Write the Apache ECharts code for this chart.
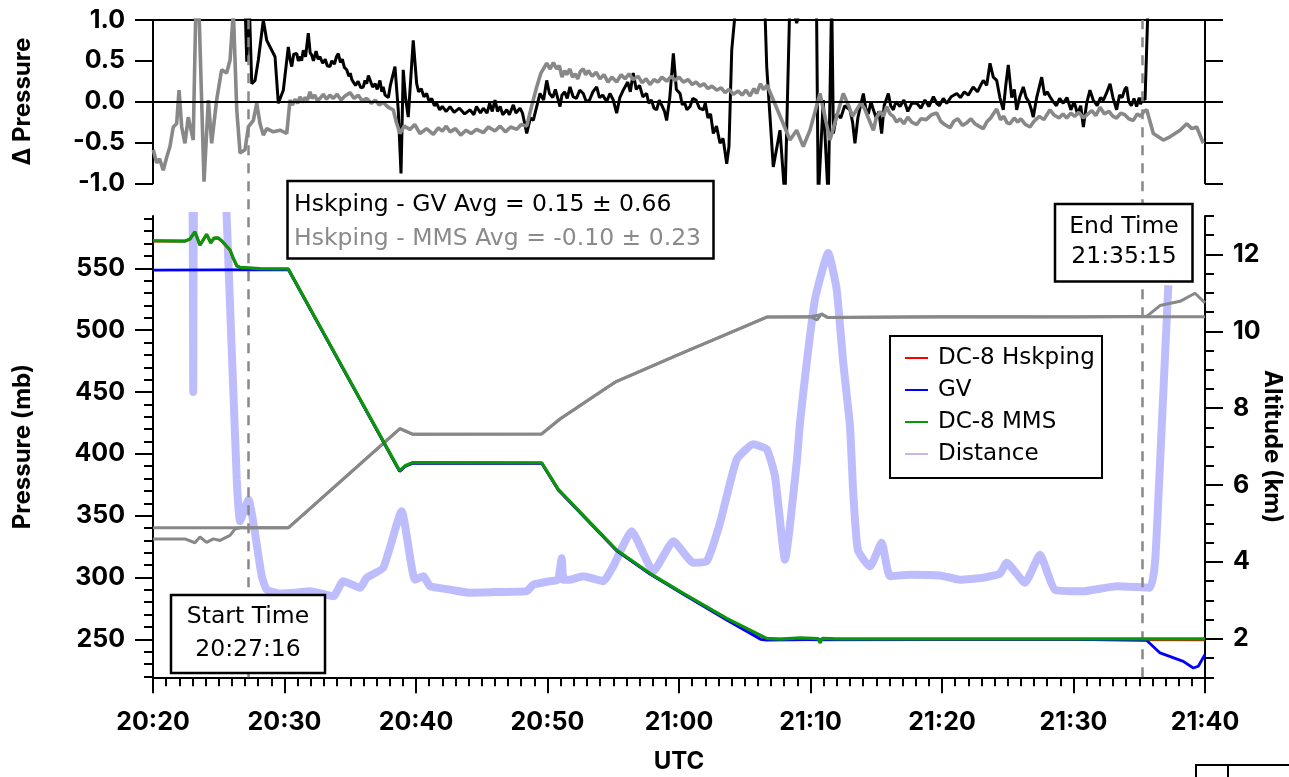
<!DOCTYPE html>
<html><head><meta charset="utf-8">
<script src="https://cdn.jsdelivr.net/npm/echarts@6/dist/echarts.min.js"></script>
<style>html,body{margin:0;padding:0;background:#fff}#c{width:1289px;height:777px}</style>
</head><body><div id="c"></div><script>
// time axis: minutes after 20:00 UTC
const START_MIN = 27 + 16/60;   // 20:27:16
const END_MIN = 95 + 15/60;     // 21:35:15
const X_MIN = 20, X_MAX = 100;

const DP_TICKS = [-1, -0.5, 0, 0.5, 1];
const P_TICKS = [250, 300, 350, 400, 450, 500, 550];
const P_MINOR = [220,230,240,250,260,270,280,290,300,310,320,330,340,350,360,370,380,390,400,410,420,430,440,450,460,470,480,490,500,510,520,530,540,550,560,570,580,590];
const ALT_TICKS = [2, 4, 6, 8, 10, 12];
const ALT_MINOR = [1,1.5,2,2.5,3,3.5,4,4.5,5,5.5,6,6.5,7,7.5,8,8.5,9,9.5,10,10.5,11,11.5,12,12.5,13];

const STAT_GV = 'Hskping - GV Avg = 0.15 ± 0.66';
const STAT_MMS = 'Hskping - MMS Avg = -0.10 ± 0.23';

// Δ Pressure: Hskping - GV (black)
const diffGV = [[27.00,1.20],[27.13,0.49],[27.32,1.20],[27.51,0.22],[27.76,0.26],[28.01,0.51],[28.39,1.00],[28.65,0.75],[29.03,0.63],[29.28,0.55],[29.53,-0.02],[29.91,0.14],
[30.29,0.67],[30.42,0.52],[30.55,0.43],[30.70,0.58],[30.93,0.59],[31.05,0.50],[31.20,0.55],[31.30,0.50],[31.43,0.63],[31.60,0.55],[31.81,0.84],[31.95,0.60],[32.07,0.57],[32.20,0.50],[32.40,0.62],[32.55,0.52],[32.70,0.55],[32.90,0.47],[33.10,0.52],[33.25,0.44],[33.46,0.43],[33.60,0.50],[33.80,0.46],[33.95,0.55],[34.09,0.59],[34.25,0.48],[34.40,0.52],[34.55,0.42],[34.73,0.39],[34.90,0.31],[35.00,0.35],[35.12,0.27],[35.23,0.26],[35.40,0.20],[35.60,0.25],[35.80,0.17],[35.99,0.18],[36.12,0.26],[36.25,0.22],[36.38,0.32],[36.50,0.30],[36.70,0.18],[36.90,0.22],[37.05,0.15],[37.26,0.26],[37.40,0.12],[37.50,0.18],[37.65,0.08],[37.77,0.10],[37.90,0.05],[38.05,0.20],[38.40,0.43],[38.65,-0.10],[38.86,-0.88],[39.03,0.39],[39.20,0.05],[39.41,-0.19],[39.79,0.75],
[40.05,0.22],[40.20,0.12],[40.40,0.16],[40.60,0.06],[40.81,0.10],[41.00,0.00],[41.20,0.04],[41.40,-0.05],[41.57,-0.02],[41.80,-0.10],[42.00,-0.06],[42.30,-0.12],[42.59,-0.06],[42.90,-0.13],[43.30,-0.08],[43.70,-0.15],[44.11,-0.10],[44.40,-0.16],[44.60,-0.06],[44.90,-0.14],[45.12,-0.08],[45.40,-0.14],[45.60,-0.02],[45.80,-0.12],[46.01,0.02],[46.20,-0.12],[46.40,-0.06],[46.60,-0.16],[46.90,-0.10],[47.10,-0.16],[47.40,-0.04],[47.60,-0.14],[47.91,-0.08],[48.10,-0.14],[48.42,-0.39],[48.70,-0.20],[48.92,-0.23],
[49.43,0.10],[49.70,0.02],[49.94,0.26],[50.15,0.10],[50.40,0.05],[50.60,0.15],[50.95,-0.06],[51.10,0.08],[51.30,0.12],[51.50,0.04],[51.71,0.18],[51.95,0.06],[52.20,0.04],[52.45,0.14],[52.72,0.10],[52.95,0.00],[53.20,0.02],[53.45,0.12],[53.74,0.18],[53.95,0.05],[54.20,0.08],[54.50,0.00],[54.75,0.10],[55.00,0.02],[55.26,-0.14],[55.50,0.05],[55.76,0.14],[56.10,0.24],[56.30,0.12],[56.52,0.35],[56.75,0.15],[57.00,0.20],[57.25,0.06],[57.54,0.10],[57.70,-0.02],[57.90,0.02],[58.10,-0.08],[58.30,-0.10],[58.50,0.02],[58.70,-0.05],[58.90,-0.12],[59.06,-0.23],[59.30,0.05],[59.57,0.59],[59.80,0.15],[60.08,0.10],[60.25,-0.04],[60.40,0.00],[60.60,-0.10],[60.84,-0.06],[61.05,0.04],[61.30,0.02],[61.55,-0.08],[61.85,-0.10],[62.00,-0.02],[62.20,-0.20],[62.40,-0.15],[62.61,-0.39],[62.85,-0.30],[63.12,-0.51],[63.35,-0.45],[63.63,-0.76],[63.80,-0.55],[64.01,0.63],
[64.39,1.30],[66.50,1.30],[66.67,0.43],[67.17,-0.80],[67.68,-0.35],[68.06,-1.20],[68.44,1.30],[68.95,0.96],[69.45,1.30],[70.45,1.30],[70.59,-1.20],[70.97,0.02],[71.35,-1.20],[71.61,1.30],[71.74,-0.39],
[72.00,-0.15],[72.30,-0.20],[72.60,-0.05],[73.00,-0.10],[73.20,-0.25],[73.38,-0.51],[73.60,-0.20],[73.80,-0.05],[74.02,0.10],[74.20,-0.08],[74.40,-0.15],[74.60,0.00],[74.78,-0.10],[75.00,-0.20],[75.20,-0.12],[75.41,-0.39],[75.60,-0.05],[75.92,0.10],[76.10,-0.05],[76.30,-0.10],[76.50,0.00],[76.81,-0.06],[77.10,0.02],[77.40,-0.12],[77.70,-0.02],[78.08,-0.02],[78.40,-0.08],[78.70,0.02],[79.00,-0.06],[79.35,0.06],[79.60,-0.02],[79.80,-0.05],[80.10,0.04],[80.36,-0.02],[80.70,0.06],[81.12,0.10],[81.40,0.05],[81.70,0.12],[82.00,0.08],[82.37,0.18],[82.70,0.12],[83.00,0.22],[83.14,0.26],[83.40,0.20],[83.65,0.47],[83.90,0.30],[84.16,0.26],[84.40,0.05],[84.66,-0.10],[84.85,0.20],[85.04,0.45],[85.30,0.05],[85.50,0.15],[85.68,-0.10],[85.90,0.05],[86.18,0.18],[86.40,0.05],[86.60,0.00],[86.80,-0.10],[86.94,-0.19],[87.20,0.05],[87.58,0.30],[87.80,0.08],[88.00,0.12],[88.21,0.06],[88.45,0.00],[88.70,-0.05],[88.95,0.04],[89.22,-0.02],[89.50,0.05],[89.80,-0.10],[90.05,0.00],[90.30,-0.15],[90.55,-0.05],[90.75,-0.31],[91.00,-0.02],[91.25,0.14],[91.50,0.02],[91.80,-0.05],[92.05,0.05],[92.27,0.02],[92.50,0.10],[92.78,0.22],[93.00,0.05],[93.28,-0.10],[93.50,0.08],[93.70,0.05],[93.90,0.15],[94.04,0.18],[94.20,0.00],[94.40,-0.05],[94.60,0.04],[94.80,-0.06],[95.00,0.05],[95.10,-0.03],[95.30,0.05],[95.44,0.02],[95.69,1.30]];

// Δ Pressure: Hskping - MMS (gray)
const diffMMS = [[20.02,-0.59],[20.28,-0.75],[20.50,-0.70],[20.78,-0.84],[21.04,-0.68],[21.29,-0.55],[21.54,-0.31],[21.80,-0.27],[21.98,0.14],[22.18,-0.31],[22.43,-0.51],[22.68,-0.19],[23.06,-0.47],[23.25,1.10],[23.50,1.10],[23.88,-0.98],[24.21,0.02],[24.46,-0.51],[24.84,0.02],[25.22,0.39],[25.60,0.35],[25.86,0.51],[26.11,1.10],[26.37,-0.10],[26.62,-0.63],[27.00,-0.59],[27.25,-0.31],[27.63,-0.23],[27.89,-0.02],[28.14,-0.27],[28.39,-0.41],[28.65,-0.33],[29.15,-0.37],[29.66,-0.35],[30.17,-0.39],
[30.42,0.02],[30.60,-0.04],[30.80,0.03],[31.00,-0.02],[31.18,0.06],[31.35,-0.01],[31.55,0.05],[31.75,0.02],[31.94,0.12],[32.10,0.04],[32.30,0.08],[32.50,0.01],[32.70,0.04],[32.95,0.09],[33.20,0.03],[33.45,0.08],[33.71,0.04],[34.00,0.09],[34.30,0.02],[34.60,0.07],[34.98,0.11],[35.30,0.04],[35.60,0.08],[35.90,0.01],[36.25,0.04],[36.60,-0.02],[36.90,0.02],[37.20,-0.04],[37.51,-0.01],[37.90,-0.07],[38.27,-0.10],[38.50,-0.25],[38.78,-0.39],[39.10,-0.30],[39.54,-0.34],[39.90,-0.28],[40.30,-0.39],[40.80,-0.33],[41.32,-0.40],[41.70,-0.32],[42.00,-0.36],[42.30,-0.30],[42.59,-0.37],[43.00,-0.33],[43.40,-0.41],[43.80,-0.35],[44.20,-0.39],[44.60,-0.34],[45.12,-0.38],[45.50,-0.31],[46.00,-0.36],[46.40,-0.30],[46.80,-0.37],[47.20,-0.31],[47.66,-0.34],[48.00,-0.28],[48.42,-0.30],[48.80,-0.05],[49.18,0.18],
[49.50,0.35],[49.94,0.47],[50.20,0.40],[50.45,0.48],[50.70,0.40],[50.90,0.44],[51.10,0.30],[51.30,0.38],[51.46,0.33],[51.70,0.40],[51.90,0.30],[52.10,0.34],[52.30,0.28],[52.50,0.37],[52.72,0.40],[52.90,0.33],[53.10,0.38],[53.40,0.31],[53.70,0.36],[53.99,0.28],[54.30,0.33],[54.60,0.24],[54.90,0.30],[55.26,0.24],[55.60,0.33],[55.90,0.28],[56.20,0.34],[56.52,0.27],[56.90,0.31],[57.20,0.23],[57.50,0.28],[57.79,0.21],[58.10,0.27],[58.40,0.24],[58.70,0.30],[59.06,0.25],[59.40,0.31],[59.70,0.26],[60.00,0.30],[60.33,0.24],[60.70,0.27],[61.00,0.21],[61.30,0.24],[61.60,0.19],[61.90,0.22],[62.20,0.16],[62.50,0.19],[62.87,0.14],[63.20,0.17],[63.50,0.11],[63.80,0.15],[64.13,0.09],[64.50,0.13],[64.80,0.08],[65.10,0.14],[65.40,0.07],[65.70,0.16],[65.90,0.10],[66.20,0.22],[66.41,0.15],[66.70,0.20],
[67.17,0.02],[67.93,-0.27],[68.44,-0.47],[68.95,-0.35],[69.45,-0.55],[69.96,-0.35],[70.72,0.10],[71.48,-0.47],[72.49,0.10],
[72.90,-0.05],[73.20,-0.18],[73.51,-0.10],[73.80,-0.02],[74.10,-0.08],[74.40,-0.20],[74.78,-0.35],[75.00,-0.20],[75.30,-0.12],[75.55,-0.18],[75.79,-0.06],[76.05,-0.15],[76.30,-0.18],[76.55,-0.25],[76.81,-0.21],[77.10,-0.27],[77.40,-0.19],[77.70,-0.25],[78.08,-0.28],[78.40,-0.21],[78.80,-0.22],[79.20,-0.16],[79.60,-0.14],[79.90,-0.24],[80.20,-0.28],[80.61,-0.32],[80.90,-0.24],[81.20,-0.21],[81.55,-0.29],[81.88,-0.26],[82.20,-0.21],[82.50,-0.27],[82.80,-0.30],[83.14,-0.33],[83.40,-0.25],[83.70,-0.20],[83.95,-0.14],[84.16,-0.09],[84.45,-0.22],[84.70,-0.18],[84.95,-0.26],[85.17,-0.27],[85.50,-0.20],[85.75,-0.25],[86.00,-0.21],[86.35,-0.28],[86.69,-0.31],[87.00,-0.24],[87.40,-0.18],[87.75,-0.22],[88.21,-0.10],[88.50,-0.16],[88.90,-0.20],[89.20,-0.15],[89.48,-0.20],[89.80,-0.14],[90.10,-0.18],[90.40,-0.13],[90.75,-0.20],[91.10,-0.15],[91.40,-0.11],[91.70,-0.17],[92.02,-0.07],[92.35,-0.15],[92.70,-0.12],[93.00,-0.18],[93.28,-0.20],[93.60,-0.14],[93.90,-0.16],[94.20,-0.21],[94.55,-0.23],[94.85,-0.15],[95.10,-0.18],[95.35,-0.12],[95.57,-0.10],
[96.07,-0.39],[96.83,-0.47],[97.34,-0.43],[98.10,-0.35],[98.61,-0.27],[99.00,-0.33],[99.37,-0.31],[99.87,-0.51]];

// Pressure (mb)
const pHskping = [[20.00,572.1],[22.43,572.0],[22.81,573.5],[23.19,579.4],[23.57,568.6],[24.08,577.3],[24.39,570.5],[24.64,574.3],[24.94,574.5],[25.25,571.8],[25.86,564.6],[26.11,557.8],[26.37,552.0],[26.62,550.6],[28.14,549.6],[30.29,549.3],[38.75,386.0],[39.20,390.2],[39.77,392.7],[49.56,392.5],[50.82,371.0],[55.26,321.9],[57.79,303.1],[60.33,286.9],[63.63,266.6],[66.67,250.3],[70.72,249.5],[80.00,249.7],[90.00,249.8],[100.00,249.6]];
const pGV = [[20.00,548.6],[25.00,548.8],[30.29,549.0],[38.75,385.8],[39.20,390.0],[39.77,392.5],[49.56,392.3],[50.82,370.8],[55.26,321.5],[57.79,302.8],[60.33,286.5],[63.63,265.6],[66.20,250.0],[66.67,249.4],[70.00,249.8],[80.00,250.0],[90.00,250.0],[95.57,249.1],[96.58,239.0],[98.35,232.2],[99.11,226.8],[99.49,228.2],[100.00,237.7]];
const pMMS = [[20.00,572.3],[22.43,572.0],[22.81,573.7],[23.19,579.6],[23.57,568.8],[24.08,577.5],[24.39,570.7],[24.64,574.5],[24.94,574.7],[25.25,572.0],[25.86,564.8],[26.11,558.0],[26.37,552.1],[26.62,550.8],[28.14,549.8],[30.29,549.5],[38.75,386.4],[39.20,390.5],[39.77,393.0],[49.56,392.8],[50.82,371.3],[55.26,322.2],[57.79,303.4],[60.33,287.2],[63.63,267.0],[66.67,250.8],[67.68,250.2],[69.20,251.2],[70.60,250.5],[70.72,247.0],[70.90,250.8],[72.00,250.4],[80.00,250.3],[90.00,250.4],[100.00,250.3]];

// Altitude (km)
const altGV = [[20.00,4.89],[30.29,4.89],[38.78,7.47],[39.77,7.32],[49.56,7.33],[50.95,7.72],[54.50,8.53],[55.26,8.70],[56.50,8.88],[60.00,9.40],[64.13,10.00],[66.67,10.37],[70.00,10.38],[70.85,10.44],[71.30,10.36],[80.00,10.38],[90.00,10.37],[95.57,10.39],[96.58,10.67],[98.10,10.78],[99.24,10.99],[100.00,10.74]];
const altDC8 = [[20.00,4.60],[22.43,4.60],[23.19,4.50],[23.57,4.65],[24.08,4.51],[24.59,4.60],[25.10,4.56],[25.86,4.69],[26.24,4.86],[26.62,4.89],[30.29,4.89],[38.78,7.47],[39.77,7.32],[49.56,7.33],[50.95,7.72],[54.50,8.53],[55.26,8.70],[56.50,8.88],[60.00,9.40],[64.13,10.00],[66.67,10.37],[70.00,10.38],[70.50,10.30],[70.85,10.46],[71.30,10.36],[80.00,10.38],[90.00,10.38],[100.00,10.38]];

// Distance between aircraft (km)
const distance = [[20.00,14],[22.95,14],[23.06,8.42],[23.17,14],[25.45,14],[25.60,13.0],[26.37,6.14],[26.62,5.06],[27.25,5.62],[28.27,3.63],[28.65,3.28],[29.66,3.18],[30.80,3.20],[31.94,3.24],[33.71,3.11],[34.47,3.50],[35.74,3.33],[36.25,3.59],[37.51,3.85],[38.91,5.32],[39.92,3.54],[40.56,3.63],[41.06,3.37],[42.59,3.28],[44.11,3.20],[46.39,3.22],[48.42,3.24],[48.92,3.41],[50.19,3.50],[50.80,3.54],[51.08,4.10],[51.22,3.54],[51.71,3.54],[52.72,3.63],[54.24,3.50],[55.00,3.89],[56.40,4.80],[58.05,3.76],[59.57,4.54],[61.09,3.98],[62.11,4.02],[63.12,5.02],[64.39,6.67],[65.65,7.06],[66.67,6.93],[67.30,6.23],[68.06,4.06],[68.95,6.58],[69.20,7.62],[69.71,9.18],[70.34,10.83],[71.35,12.04],[71.99,11.09],[72.49,9.18],[73.00,7.54],[73.25,5.80],[73.61,4.30],[74.52,3.88],[75.41,4.50],[76.05,3.63],[77.57,3.67],[79.85,3.65],[81.37,3.54],[83.14,3.59],[84.41,3.70],[84.92,3.98],[86.31,3.46],[87.45,4.19],[88.59,3.28],[90.75,3.24],[93.28,3.37],[95.82,3.33],[96.20,3.98],[96.45,5.62],[97.21,11.20]];

const AXFONT = 'Inter';
const BOXFONT = 'DejaVu Sans';
const AX = {color:'#000', width:2};
const tickFont = {fontFamily:AXFONT, fontWeight:'bold', fontSize:25, color:'#000'};
const nameFont = {fontFamily:AXFONT, fontWeight:'bold', fontSize:24, color:'#000'};
function fmtTime(v){const h=20+Math.floor(v/60);const m=Math.round(v%60);return h+':'+(m<10?'0':'')+m;}

const chart = echarts.init(document.getElementById('c'), null, {renderer:'canvas'});
const hidden = {axisLine:{show:false}, axisTick:{show:false}, axisLabel:{show:false}, splitLine:{show:false}};
const boxText = (t, x, y, color, align) => ({type:'text', z:51, x:x, y:y,
  style:{text:t, fill:color, font:'23.5px "' + BOXFONT + '"', align:align, verticalAlign:'middle'}});
const option = {
  animation:false,
  backgroundColor:'#fff',
  grid:[
    {left:153, width:1052, top:20, height:163.3, outerBoundsMode:'none'},
    {left:153, width:1052, top:216, height:461.3, outerBoundsMode:'none'},
    {left:153, width:1052, top:20, height:657.3, outerBoundsMode:'none'}
  ],
  xAxis:[
    Object.assign({gridIndex:0, type:'value', min:X_MIN, max:X_MAX}, hidden),
    {gridIndex:0, type:'value', position:'top', min:X_MIN, max:X_MAX, axisLine:{show:true, onZero:false, lineStyle:AX}, axisTick:{show:false}, axisLabel:{show:false}, splitLine:{show:false}},
    {gridIndex:1, type:'value', min:X_MIN, max:X_MAX, interval:10,
     axisLine:{show:true, onZero:false, lineStyle:AX},
     axisTick:{show:true, length:16, lineStyle:AX},
     minorTick:{show:true, splitNumber:10, length:9, lineStyle:AX},
     axisLabel:Object.assign({formatter:fmtTime, margin:33, showMinLabel:true, showMaxLabel:true}, tickFont),
     splitLine:{show:false}, minorSplitLine:{show:false},
     name:'UTC', nameLocation:'middle', nameGap:72, nameMoveOverlap:false, nameTextStyle:nameFont},
    Object.assign({gridIndex:2, type:'value', min:X_MIN, max:X_MAX}, hidden)
  ],
  yAxis:[
    {gridIndex:0, type:'value', min:-1, max:1, position:'left',
     axisLine:{show:true, onZero:false, lineStyle:AX},
     axisTick:{show:true, length:18, lineStyle:AX, customValues:DP_TICKS},
     axisLabel:Object.assign({margin:28, customValues:DP_TICKS, formatter:v=>v.toFixed(1)}, tickFont),
     splitLine:{show:false},
     name:'Δ Pressure', nameLocation:'middle', nameGap:118, nameMoveOverlap:false, nameTextStyle:nameFont},
    {gridIndex:0, type:'value', min:-1, max:1, position:'right',
     axisLine:{show:true, onZero:false, lineStyle:AX},
     axisTick:{show:true, length:18, lineStyle:AX, customValues:DP_TICKS},
     axisLabel:{show:false}, splitLine:{show:false}},
    {gridIndex:1, type:'value', min:219.3, max:592.3, position:'left',
     axisLine:{show:true, onZero:false, lineStyle:AX},
     axisTick:{show:true, length:18, lineStyle:AX, customValues:P_TICKS},
     axisLabel:Object.assign({margin:28, customValues:P_TICKS}, tickFont),
     splitLine:{show:false},
     name:'Pressure (mb)', nameLocation:'middle', nameGap:118, nameMoveOverlap:false, nameTextStyle:nameFont},
    {gridIndex:1, type:'value', min:219.3, max:592.3, position:'left',
     axisLine:{show:false}, axisTick:{show:true, length:9, lineStyle:AX, customValues:P_MINOR},
     axisLabel:{show:false}, splitLine:{show:false}},
    {gridIndex:1, type:'value', min:1, max:13, position:'right',
     axisLine:{show:true, onZero:false, lineStyle:AX},
     axisTick:{show:true, length:18, lineStyle:AX, customValues:ALT_TICKS},
     axisLabel:Object.assign({margin:28, customValues:ALT_TICKS}, tickFont),
     splitLine:{show:false},
     name:'Altitude (km)', nameLocation:'middle', nameGap:55, nameRotate:-90, nameMoveOverlap:false, nameTextStyle:nameFont},
    {gridIndex:1, type:'value', min:1, max:13, position:'right',
     axisLine:{show:false}, axisTick:{show:true, length:9, lineStyle:AX, customValues:ALT_MINOR},
     axisLabel:{show:false}, splitLine:{show:false}},
    Object.assign({gridIndex:2, type:'value', min:0, max:1}, hidden)
  ],
  legend:{
    orient:'vertical', left:905, top:342, padding:0, itemGap:0, itemWidth:23, itemHeight:2, icon:'rect',
    textStyle:{fontFamily:BOXFONT, fontSize:23, color:'#000', lineHeight:32, padding:[0,0,0,5]},
    data:['DC-8 Hskping','GV','DC-8 MMS',{name:'Distance', itemStyle:{color:'#c8b6e8'}}],
    selectedMode:false, z:10
  },
  series:[
    {name:'zero', type:'line', xAxisIndex:0, yAxisIndex:0, data:[], z:1,
     markLine:{silent:true, symbol:'none', label:{show:false}, lineStyle:{color:'#000', type:'solid', width:2}, data:[{yAxis:0}]}},
    {name:'Hskping - GV', type:'line', xAxisIndex:0, yAxisIndex:0, data:diffGV, symbol:'none',
     lineStyle:{color:'#000', width:3}, itemStyle:{color:'#000'}, z:3},
    {name:'Hskping - MMS', type:'line', xAxisIndex:0, yAxisIndex:0, data:diffMMS, symbol:'none',
     lineStyle:{color:'#888', width:3.6}, itemStyle:{color:'#888'}, z:4},
    {name:'Distance', type:'line', xAxisIndex:2, yAxisIndex:4, data:distance, symbol:'none', smooth:0.15,
     lineStyle:{color:'#bdbdfd', width:8}, itemStyle:{color:'#bdbdfd'}, z:2},
    {name:'DC-8 Altitude', type:'line', xAxisIndex:2, yAxisIndex:4, data:altDC8, symbol:'none',
     lineStyle:{color:'#888', width:3}, itemStyle:{color:'#888'}, z:3},
    {name:'GV Altitude', type:'line', xAxisIndex:2, yAxisIndex:4, data:altGV, symbol:'none',
     lineStyle:{color:'#888', width:3}, itemStyle:{color:'#888'}, z:3},
    {name:'DC-8 Hskping', type:'line', xAxisIndex:2, yAxisIndex:2, data:pHskping, symbol:'none',
     lineStyle:{color:'#ff0000', width:2.8}, itemStyle:{color:'#ff0000'}, z:4},
    {name:'GV', type:'line', xAxisIndex:2, yAxisIndex:2, data:pGV, symbol:'none',
     lineStyle:{color:'#0000ff', width:2.8}, itemStyle:{color:'#0000ff'}, z:5},
    {name:'DC-8 MMS', type:'line', xAxisIndex:2, yAxisIndex:2, data:pMMS, symbol:'none',
     lineStyle:{color:'#0a960a', width:3.2}, itemStyle:{color:'#0a960a'}, z:6},
    {name:'times', type:'line', xAxisIndex:3, yAxisIndex:6, data:[], z:7,
     markLine:{silent:true, symbol:'none', label:{show:false}, lineStyle:{color:'#888', type:[10,8], width:2.5}, data:[{xAxis:START_MIN},{xAxis:END_MIN}]}}
  ],
  graphic:[
    {type:'rect', z:3, shape:{x:890, y:336, width:212, height:142}, style:{fill:'#fff', stroke:'#000', lineWidth:2}},
    {type:'rect', z:50, shape:{x:287.5, y:181, width:426, height:77.5}, style:{fill:'#fff', stroke:'#000', lineWidth:2.5}},
    boxText(STAT_GV, 294, 205, '#000', 'left'),
    boxText(STAT_MMS, 294, 238.5, '#8a8a8a', 'left'),
    {type:'rect', z:50, shape:{x:1055, y:204, width:137.5, height:77.5}, style:{fill:'#fff', stroke:'#000', lineWidth:2.5}},
    boxText('End Time', 1124, 227, '#000', 'center'),
    boxText('21:35:15', 1124, 257, '#000', 'center'),
    {type:'rect', z:50, shape:{x:171, y:595, width:154, height:78}, style:{fill:'#fff', stroke:'#000', lineWidth:2.5}},
    boxText('Start Time', 248, 617, '#000', 'center'),
    boxText('20:27:16', 248, 650, '#000', 'center'),
    {type:'rect', z:50, shape:{x:1196, y:765, width:200, height:40}, style:{fill:'none', stroke:'#000', lineWidth:2}},
    {type:'line', z:50, shape:{x1:1228, y1:765, x2:1228, y2:777}, style:{stroke:'#000', lineWidth:2}}
  ]
};
chart.setOption(option);
</script></body></html>
